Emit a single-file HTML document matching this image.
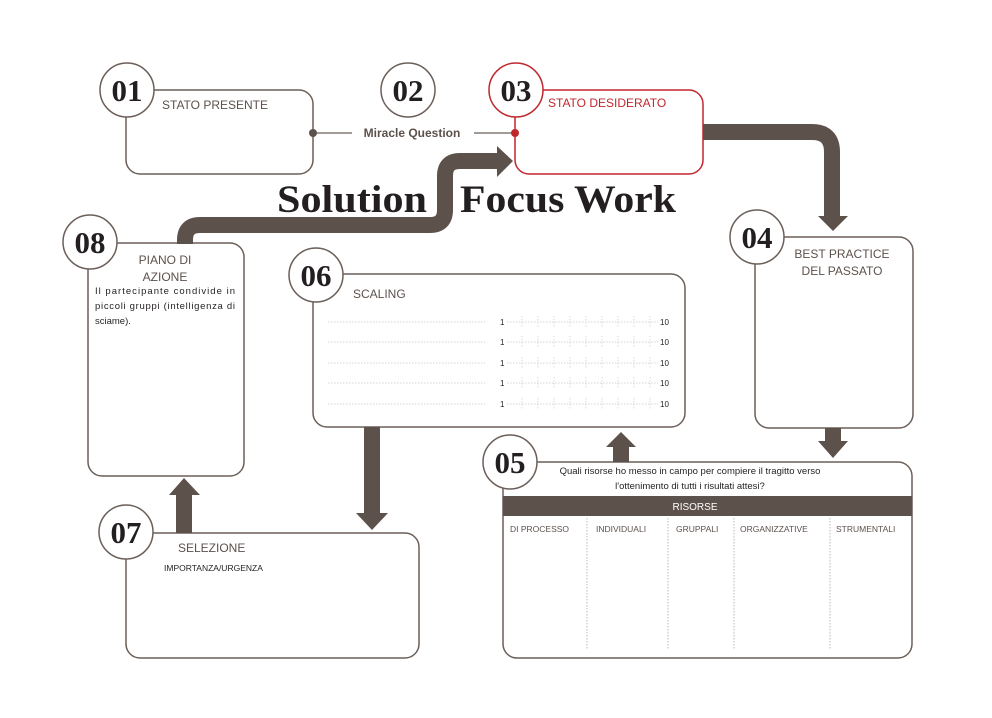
<!DOCTYPE html>
<html><head><meta charset="utf-8"><style>
html,body{margin:0;padding:0;background:#fff;}
svg{display:block;}
.s{font-family:"Liberation Sans",sans-serif;fill:#5d514c;}
.n{font-family:"Liberation Serif",serif;font-weight:bold;font-size:31px;fill:#231f20;}
</style></head><body>
<svg width="992" height="718" viewBox="0 0 992 718" xmlns="http://www.w3.org/2000/svg">
<g fill="none" stroke="#6b5f59" stroke-width="1.5">
<rect x="126" y="90" width="187" height="84" rx="14"/>
<rect x="755" y="237" width="158" height="191" rx="14"/>
<rect x="503" y="462" width="409" height="196" rx="14"/>
<rect x="313" y="274" width="372" height="153" rx="14"/>
<rect x="126" y="533" width="293" height="125" rx="14"/>
<rect x="88" y="243" width="156" height="233" rx="14"/>
</g>
<rect x="515" y="90" width="188" height="84" rx="14" fill="none" stroke="#c0272d" stroke-width="1.5"/>
<line x1="313" y1="133" x2="352" y2="133" stroke="#6b5f59" stroke-width="1.2"/>
<line x1="474" y1="133" x2="515" y2="133" stroke="#6b5f59" stroke-width="1.2"/>
<circle cx="313" cy="133" r="4" fill="#5d514c"/>
<circle cx="515" cy="133" r="4" fill="#c0272d"/>
<text x="412" y="137" text-anchor="middle" class="s" style="font-size:12px;font-weight:bold">Miracle Question</text>
<g fill="none" stroke="#5d514c" stroke-width="16">
<path d="M185 244 V240 Q185 225 200 225 H430 Q445 225 445 210 V176 Q445 161 460 161 H500"/>
<path d="M703 132 H812 Q832 132 832 152 V218"/>
<path d="M833 428 V442"/>
<path d="M621 462 V446"/>
<path d="M372 427 V514"/>
<path d="M184 533 V494"/>
</g>
<g fill="#5d514c">
<polygon points="497,146 513,161 497,177"/>
<polygon points="818,216 848,216 833,231"/>
<polygon points="818,441 848,441 833,458"/>
<polygon points="606,447 636,447 621,432"/>
<polygon points="356,513 388,513 372,530"/>
<polygon points="169,495 200,495 184,478"/>
</g>
<text x="277" y="212" textLength="150" lengthAdjust="spacingAndGlyphs" style="font-family:'Liberation Serif',serif;font-weight:bold;font-size:39px;fill:#231f20">Solution</text>
<text x="460" y="212" textLength="216" lengthAdjust="spacingAndGlyphs" style="font-family:'Liberation Serif',serif;font-weight:bold;font-size:39px;fill:#231f20">Focus Work</text>
<g fill="#fff" stroke="#6b5f59" stroke-width="1.5">
<circle cx="127" cy="90" r="27"/>
<circle cx="408" cy="90" r="27"/>
<circle cx="757" cy="237" r="27"/>
<circle cx="510" cy="462" r="27"/>
<circle cx="316" cy="275" r="27"/>
<circle cx="126" cy="532" r="27"/>
<circle cx="90" cy="242" r="27"/>
</g>
<circle cx="516" cy="90" r="27" fill="#fff" stroke="#c0272d" stroke-width="1.5"/>
<g class="n" text-anchor="middle">
<text x="127" y="101">01</text>
<text x="408" y="101">02</text>
<text x="516" y="101">03</text>
<text x="757" y="248">04</text>
<text x="510" y="473">05</text>
<text x="316" y="286">06</text>
<text x="126" y="543">07</text>
<text x="90" y="253">08</text>
</g>
<text x="162" y="109" class="s" style="font-size:12px">STATO PRESENTE</text>
<text x="548" y="107" class="s" style="font-size:12px;fill:#c0272d">STATO DESIDERATO</text>
<text x="842" y="258" text-anchor="middle" class="s" style="font-size:12px">BEST PRACTICE</text>
<text x="842" y="275" text-anchor="middle" class="s" style="font-size:12px">DEL PASSATO</text>
<text x="165" y="264" text-anchor="middle" class="s" style="font-size:12px">PIANO DI</text>
<text x="165" y="281" text-anchor="middle" class="s" style="font-size:12px">AZIONE</text>
<g class="s" style="font-size:9.5px;fill:#231f20">
<text x="95" y="294" textLength="140" lengthAdjust="spacing">Il partecipante condivide in</text>
<text x="95" y="309" textLength="140" lengthAdjust="spacing">piccoli gruppi (intelligenza di</text>
<text x="95" y="324">sciame).</text>
</g>
<text x="178" y="552" class="s" style="font-size:12px">SELEZIONE</text>
<text x="164" y="571" class="s" style="font-size:8.5px;fill:#231f20">IMPORTANZA/URGENZA</text>
<text x="353" y="298" class="s" style="font-size:12px">SCALING</text>
<g stroke="#c8c4c2" stroke-width="0.8" stroke-dasharray="1.5,1.5">
<line x1="328" y1="322" x2="485" y2="322"/><line x1="507" y1="322" x2="658" y2="322"/>
<line x1="328" y1="342" x2="485" y2="342"/><line x1="507" y1="342" x2="658" y2="342"/>
<line x1="328" y1="363" x2="485" y2="363"/><line x1="507" y1="363" x2="658" y2="363"/>
<line x1="328" y1="383" x2="485" y2="383"/><line x1="507" y1="383" x2="658" y2="383"/>
<line x1="328" y1="404" x2="485" y2="404"/><line x1="507" y1="404" x2="658" y2="404"/>
</g>
<g stroke="#d4d0ce" stroke-width="0.8" stroke-dasharray="1.5,1.5">
<path d="M522 316v12M538 316v12M554 316v12M570 316v12M586 316v12M602 316v12M618 316v12M634 316v12M650 316v12"/>
<path d="M522 336v12M538 336v12M554 336v12M570 336v12M586 336v12M602 336v12M618 336v12M634 336v12M650 336v12"/>
<path d="M522 357v12M538 357v12M554 357v12M570 357v12M586 357v12M602 357v12M618 357v12M634 357v12M650 357v12"/>
<path d="M522 377v12M538 377v12M554 377v12M570 377v12M586 377v12M602 377v12M618 377v12M634 377v12M650 377v12"/>
<path d="M522 398v12M538 398v12M554 398v12M570 398v12M586 398v12M602 398v12M618 398v12M634 398v12M650 398v12"/>
</g>
<g class="s" style="font-size:8px;fill:#231f20">
<text x="500" y="325">1</text><text x="660" y="325">10</text>
<text x="500" y="345">1</text><text x="660" y="345">10</text>
<text x="500" y="366">1</text><text x="660" y="366">10</text>
<text x="500" y="386">1</text><text x="660" y="386">10</text>
<text x="500" y="407">1</text><text x="660" y="407">10</text>
</g>
<text x="690" y="474" text-anchor="middle" class="s" style="font-size:9.5px;fill:#231f20">Quali risorse ho messo in campo per compiere il tragitto verso</text>
<text x="690" y="489" text-anchor="middle" class="s" style="font-size:9.5px;fill:#231f20">l'ottenimento di tutti i risultati attesi?</text>
<rect x="503" y="496" width="409" height="20" fill="#5d514c"/>
<text x="695" y="510" text-anchor="middle" class="s" style="font-size:10px;fill:#fff">RISORSE</text>
<g class="s" style="font-size:8.5px">
<text x="510" y="532">DI PROCESSO</text>
<text x="596" y="532">INDIVIDUALI</text>
<text x="676" y="532">GRUPPALI</text>
<text x="740" y="532">ORGANIZZATIVE</text>
<text x="836" y="532">STRUMENTALI</text>
</g>
<g stroke="#aaa" stroke-width="0.8" stroke-dasharray="1.5,1.5">
<line x1="587" y1="518" x2="587" y2="650"/>
<line x1="668" y1="518" x2="668" y2="650"/>
<line x1="734" y1="518" x2="734" y2="650"/>
<line x1="830" y1="518" x2="830" y2="650"/>
</g>
</svg>
</body></html>
